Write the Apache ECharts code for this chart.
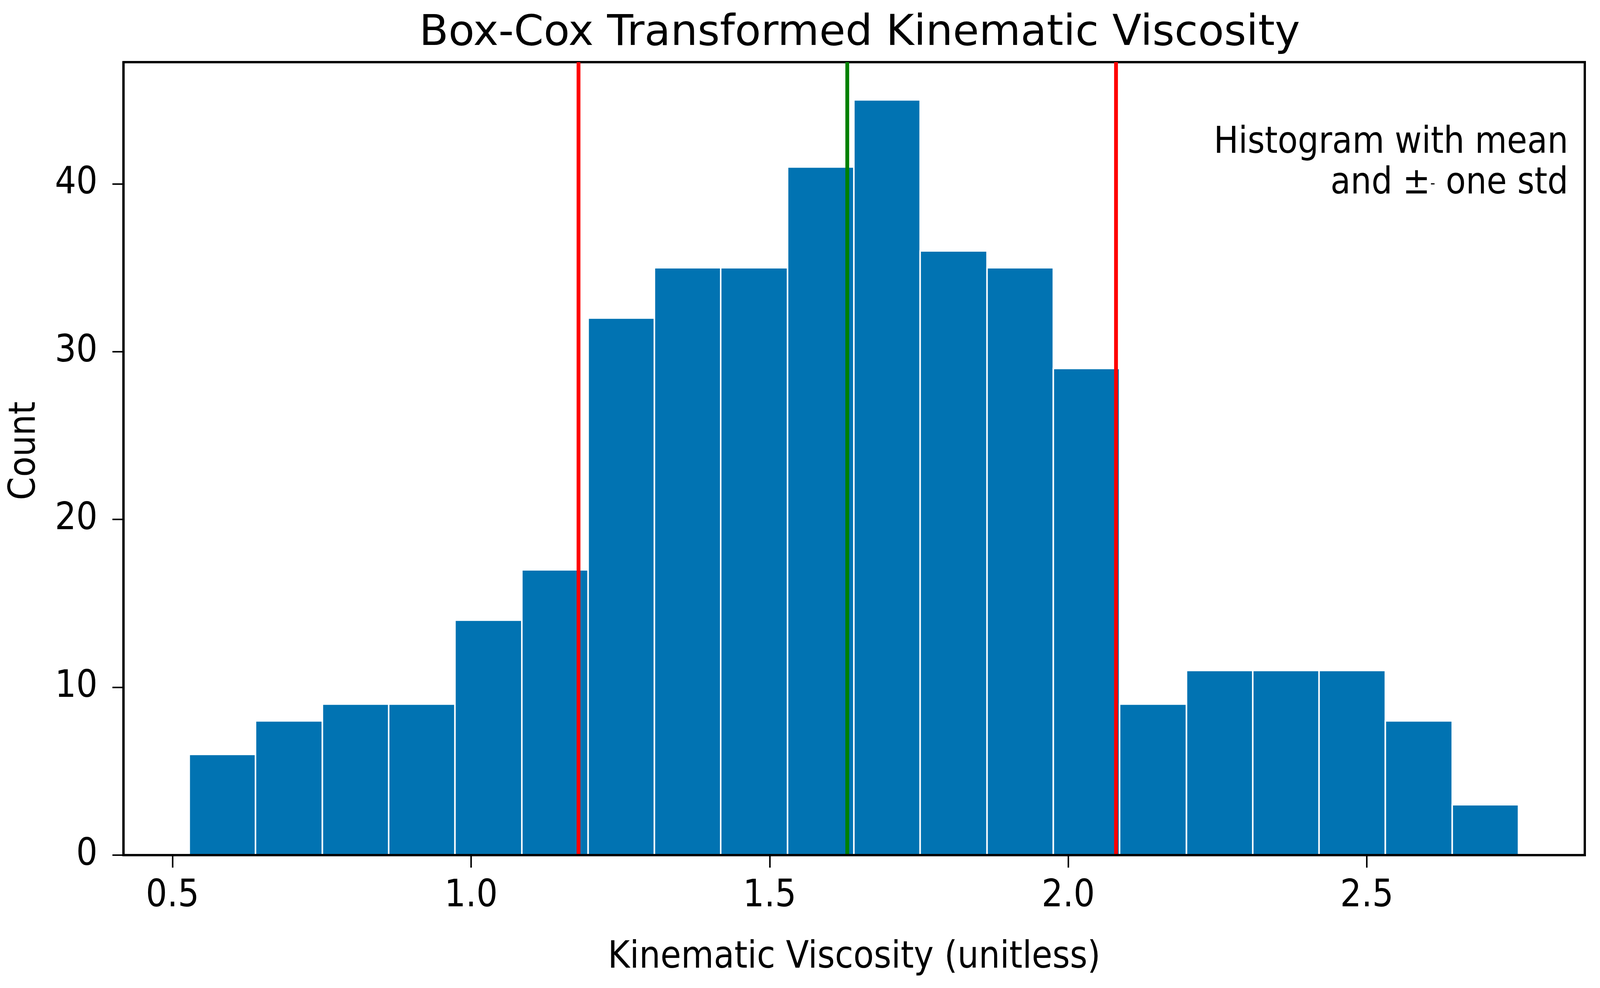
<!DOCTYPE html>
<html>
  <head>
    <meta charset="UTF-8">
    <title>Box-Cox Transformed Kinematic Viscosity</title>
    <style type="text/css">
      html, body {
        margin: 0;
        padding: 0;
        overflow: hidden;
        background-color: white;
      }
      #main {
        width: 100vw;
        height: 100vh;
      }
    </style>
  </head>
  <body>
    <div id="main"></div>
    <script src="https://cdn.jsdelivr.net/npm/echarts@6/dist/echarts.min.js" type="text/javascript"></script>
    <script type="text/javascript">
      // histogram bin edges (21 edges -> 20 bins) and counts
      var binEdges = [0.528, 0.639, 0.751, 0.862, 0.973, 1.085, 1.196, 1.307, 1.418, 1.530,
                      1.641, 1.752, 1.864, 1.975, 2.086, 2.198, 2.309, 2.420, 2.531, 2.643, 2.754];
      var counts = [6, 8, 9, 9, 14, 17, 32, 35, 35, 41, 45, 36, 35, 29, 9, 11, 11, 11, 8, 3];

      // mean and mean +- one std
      var meanValue = 1.626;
      var stdLines = [1.182, 2.076];

      var xTicks = [0.5, 1.0, 1.5, 2.0, 2.5];
      var yTicks = [0, 10, 20, 30, 40];

      var titleFont = 'DejaVu Sans';
      var font = 'DejaVu Sans Condensed, DejaVu Sans';
      var barColor = '#0173b2';

      // the layout below is measured on a 4313 x 2528 picture; scale it to the real viewport
      var dom = document.getElementById('main');
      var sx = dom.clientWidth / 4313;
      var sy = dom.clientHeight / 2528;
      var s = Math.sqrt(sx * sy);

      var histData = [];
      for (var i = 0; i < counts.length; i++) {
        histData.push([binEdges[i], binEdges[i + 1], counts[i]]);
      }

      var chart = echarts.init(dom, null, { renderer: 'canvas' });

      var option = {
        backgroundColor: '#ffffff',
        animation: false,
        title: [{
          text: 'Box-Cox Transformed Kinematic Viscosity',
          left: 2312 * sx,
          top: 27 * sy,
          textAlign: 'center',
          textStyle: { fontFamily: titleFont, fontSize: 112 * s, fontWeight: 'normal', color: '#000' }
        }, {
          text: 'Histogram with mean\nand \u00b1{s|-} one std',
          left: 4222 * sx,
          top: 310 * sy,
          textAlign: 'right',
          textStyle: {
            fontFamily: font, fontSize: 96 * s, fontWeight: 'normal', color: '#000', lineHeight: 104 * sy,
            rich: { s: { fontFamily: font, fontSize: 40 * s, color: '#000', verticalAlign: 'middle' } }
          }
        }],
        grid: {
          left: 333 * sx,
          right: 41 * sx,
          top: 159 * sy,
          bottom: 340 * sy,
          show: true,
          borderColor: '#000',
          borderWidth: 6 * s,
          backgroundColor: 'transparent'
        },
        xAxis: {
          type: 'value',
          min: 0.418,
          max: 2.865,
          z: 10,
          name: 'Kinematic Viscosity (unitless)',
          nameLocation: 'middle',
          nameGap: 215 * sy,
          nameTextStyle: { fontFamily: font, fontSize: 98 * s, color: '#000' },
          axisLine: { show: true, onZero: false, lineStyle: { color: '#000', width: 6 * s } },
          axisTick: { show: true, length: 32 * sy, lineStyle: { color: '#000', width: 4 * s }, customValues: xTicks },
          axisLabel: {
            margin: 58 * sy,
            fontFamily: font,
            fontSize: 98 * s,
            color: '#000',
            customValues: xTicks,
            formatter: function (v) { return v.toFixed(1); }
          },
          splitLine: { show: false }
        },
        yAxis: {
          type: 'value',
          min: 0,
          max: 47.25,
          z: 10,
          name: 'Count',
          nameLocation: 'middle',
          nameGap: 215 * sx,
          nameTextStyle: { fontFamily: font, fontSize: 97 * s, color: '#000', padding: [0, 0, 0, 40 * sy] },
          axisLine: { show: true, lineStyle: { color: '#000', width: 6 * s } },
          axisTick: { show: true, length: 30 * sx, lineStyle: { color: '#000', width: 4 * s }, customValues: yTicks },
          axisLabel: {
            margin: 70 * sx,
            fontFamily: font,
            fontSize: 98 * s,
            color: '#000',
            customValues: yTicks
          },
          splitLine: { show: false }
        },
        series: [{
          type: 'custom',
          name: 'Count',
          data: histData,
          encode: { x: [0, 1], y: 2 },
          renderItem: function (params, api) {
            var topLeft = api.coord([api.value(0), api.value(2)]);
            var bottomRight = api.coord([api.value(1), 0]);
            return {
              type: 'rect',
              shape: {
                x: topLeft[0],
                y: topLeft[1],
                width: bottomRight[0] - topLeft[0],
                height: bottomRight[1] - topLeft[1]
              },
              style: { fill: barColor, stroke: '#ffffff', lineWidth: 4 * s }
            };
          },
          markLine: {
            silent: true,
            symbol: 'none',
            label: { show: false },
            data: [
              { xAxis: stdLines[0], lineStyle: { color: '#ff0000', width: 10 * s, type: 'solid' } },
              { xAxis: meanValue, lineStyle: { color: '#008000', width: 10 * s, type: 'solid' } },
              { xAxis: stdLines[1], lineStyle: { color: '#ff0000', width: 10 * s, type: 'solid' } }
            ]
          }
        }]
      };

      chart.setOption(option);
      window.addEventListener('resize', function () { chart.resize(); });
    </script>
  </body>
</html>
